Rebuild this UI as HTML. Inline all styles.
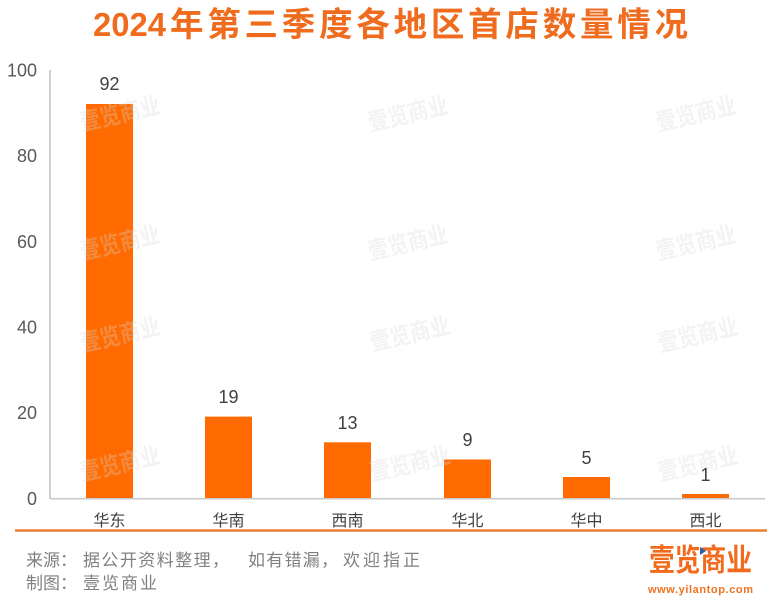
<!DOCTYPE html>
<html>
<head>
<meta charset="utf-8">
<style>
  html, body { margin: 0; padding: 0; background: #ffffff; }
  body { width: 774px; height: 602px; overflow: hidden; }
  svg { display: block; }
  text { font-family: "Liberation Sans", "Noto Sans CJK SC", sans-serif; }
</style>
</head>
<body>
<svg width="774" height="602" viewBox="0 0 774 602" xmlns="http://www.w3.org/2000/svg">
  <rect width="774" height="602" fill="#ffffff"/>

  <!-- Title -->
  <text x="93" y="36" font-size="33.5" font-weight="bold" fill="#EF6C1E" textLength="73" lengthAdjust="spacingAndGlyphs">2024</text>
  <text x="170" y="36" font-size="33.5" font-weight="bold" fill="#EF6C1E" textLength="518" lengthAdjust="spacing">年第三季度各地区首店数量情况</text>

  <!-- Bars -->
  <g fill="#FF6B00">
    <rect x="86" y="104" width="47" height="394.5"/>
    <rect x="205" y="416.6" width="47" height="81.9"/>
    <rect x="324" y="442.3" width="47" height="56.2"/>
    <rect x="444" y="459.5" width="47" height="39"/>
    <rect x="563" y="477" width="47" height="21.5"/>
    <rect x="682" y="494" width="47" height="4.5"/>
  </g>

  <!-- Watermarks -->
  <g font-size="24" font-weight="bold" fill="#d6d6d6" opacity="0.3">
    <text transform="translate(120,114) rotate(-13) scale(0.85,1)" text-anchor="middle" dominant-baseline="central">壹览商业</text>
    <text transform="translate(408,114) rotate(-13) scale(0.85,1)" text-anchor="middle" dominant-baseline="central">壹览商业</text>
    <text transform="translate(696,114) rotate(-13) scale(0.85,1)" text-anchor="middle" dominant-baseline="central">壹览商业</text>
    <text transform="translate(120,243) rotate(-13) scale(0.85,1)" text-anchor="middle" dominant-baseline="central">壹览商业</text>
    <text transform="translate(408,243) rotate(-13) scale(0.85,1)" text-anchor="middle" dominant-baseline="central">壹览商业</text>
    <text transform="translate(696,243) rotate(-13) scale(0.85,1)" text-anchor="middle" dominant-baseline="central">壹览商业</text>
    <text transform="translate(120,335) rotate(-13) scale(0.85,1)" text-anchor="middle" dominant-baseline="central">壹览商业</text>
    <text transform="translate(410,334) rotate(-13) scale(0.85,1)" text-anchor="middle" dominant-baseline="central">壹览商业</text>
    <text transform="translate(698,335) rotate(-13) scale(0.85,1)" text-anchor="middle" dominant-baseline="central">壹览商业</text>
    <text transform="translate(120,464) rotate(-13) scale(0.85,1)" text-anchor="middle" dominant-baseline="central">壹览商业</text>
    <text transform="translate(410,464) rotate(-13) scale(0.85,1)" text-anchor="middle" dominant-baseline="central">壹览商业</text>
    <text transform="translate(698,464) rotate(-13) scale(0.85,1)" text-anchor="middle" dominant-baseline="central">壹览商业</text>
  </g>

  <!-- Axes -->
  <line x1="50" y1="70" x2="50" y2="499" stroke="#BFBFBF" stroke-width="1.5"/>
  <line x1="50" y1="498.8" x2="765" y2="498.8" stroke="#C8C8C8" stroke-width="1.5"/>

  <!-- Y labels -->
  <g font-size="18" fill="#595959" text-anchor="end">
    <text x="37" y="76.5">100</text>
    <text x="37" y="162.2">80</text>
    <text x="37" y="247.8">60</text>
    <text x="37" y="333.5">40</text>
    <text x="37" y="419.2">20</text>
    <text x="37" y="504.8">0</text>
  </g>

  <!-- Value labels -->
  <g font-size="18" fill="#404040" text-anchor="middle">
    <text x="109.5" y="90">92</text>
    <text x="228.5" y="403">19</text>
    <text x="347.5" y="429">13</text>
    <text x="467.5" y="446">9</text>
    <text x="586.5" y="464">5</text>
    <text x="705.5" y="481">1</text>
  </g>

  <!-- Category labels -->
  <g font-size="16" fill="#404040" text-anchor="middle">
    <text x="109.5" y="526">华东</text>
    <text x="228.5" y="526">华南</text>
    <text x="347.5" y="526">西南</text>
    <text x="467.5" y="526">华北</text>
    <text x="586.5" y="526">华中</text>
    <text x="705.5" y="526">西北</text>
  </g>

  <!-- Separator -->
  <line x1="15" y1="530.5" x2="767" y2="530.5" stroke="#ED7D31" stroke-width="2.5"/>

  <!-- Footer text -->
  <g font-size="17" fill="#808080">
    <text x="26" y="566">来源：</text>
    <text x="83" y="566" textLength="146" lengthAdjust="spacing">据公开资料整理，</text>
    <text x="248" y="566" textLength="90" lengthAdjust="spacing">如有错漏，</text>
    <text x="343" y="566" textLength="77" lengthAdjust="spacing">欢迎指正</text>
    <text x="26" y="589">制图：</text>
    <text x="83" y="589" textLength="74" lengthAdjust="spacing">壹览商业</text>
  </g>

  <!-- Logo -->
  <text x="649" y="571" font-size="31" font-weight="bold" fill="#F26B1D" textLength="103" lengthAdjust="spacingAndGlyphs">壹览商业</text>
  <polygon points="700,547 706,551 700,555" fill="#2B5FA8"/>
  <text x="648" y="593" font-size="11" font-weight="bold" fill="#F07322" textLength="105" lengthAdjust="spacing">www.yilantop.com</text>
</svg>
</body>
</html>
